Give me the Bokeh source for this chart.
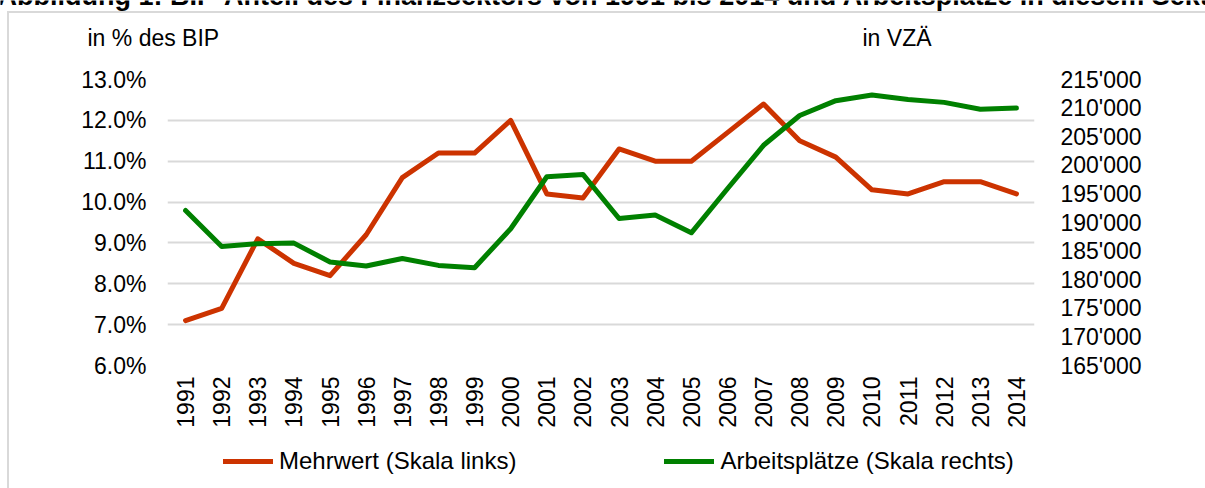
import numpy as np
from bokeh.plotting import figure
from bokeh.layouts import column
from bokeh.models import (Range1d, LinearAxis, FixedTicker, PrintfTickFormatter,
                          CustomJSTickFormatter, Legend, LegendItem, Label)
from bokeh.embed import file_html
from bokeh.resources import INLINE

# ---------------- data ----------------
years = [1991, 1992, 1993, 1994, 1995, 1996, 1997, 1998, 1999, 2000, 2001, 2002,
         2003, 2004, 2005, 2006, 2007, 2008, 2009, 2010, 2011, 2012, 2013, 2014]
mehrwert = [7.1, 7.4, 9.1, 8.5, 8.2, 9.2, 10.6, 11.2, 11.2, 12.0, 10.2, 10.1,
            11.3, 11.0, 11.0, 11.7, 12.4, 11.5, 11.1, 10.3, 10.2, 10.5, 10.5, 10.2]
arbeitsplaetze = [192100, 185800, 186300, 186400, 183100, 182400, 183700, 182500,
                  182100, 188900, 198000, 198400, 190700, 191300, 188200, 195900,
                  203500, 208700, 211300, 212300, 211500, 211000, 209800, 210000]
left_ticks = [6, 7, 8, 9, 10, 11, 12, 13]
right_ticks = [165000, 170000, 175000, 180000, 185000, 190000, 195000, 200000,
               205000, 210000, 215000]
series_labels = ["Mehrwert (Skala links)", "Arbeitsplätze (Skala rechts)"]
left_title = "in % des BIP"
right_title = "in VZÄ"
chart_title = ("Abbildung 1: BIP-Anteil des Finanzsektors von 1991 bis 2014 "
               "und Arbeitsplätze in diesem Sektor")

FONT = "Liberation Sans"
RED = "#CC3300"
GREEN = "#008000"
GRID = "#d9d9d9"

W = 1205
HEAD_H = 55          # header strip (page y 0..55)
MAIN_H = 385         # chart (page y 55..440)
LEG_H = 48           # legend strip (page y 440..488)
F_LEFT, F_RIGHT, F_TOP, F_BOTTOM = 167, 1034, 79, 365   # plot frame, page pixels

LEFT_LINE = f"linear-gradient({GRID},{GRID}) 7px 0px / 2px 100% no-repeat"


def bare(fig):
    fig.outline_line_color = None
    fig.background_fill_alpha = 0
    fig.border_fill_alpha = 0
    fig.min_border_left = fig.min_border_right = 0
    fig.min_border_top = fig.min_border_bottom = 0
    fig.xgrid.visible = False
    fig.ygrid.visible = False
    fig.frame_align = False


# ---------------- header strip ----------------
head = figure(width=W, height=HEAD_H, output_backend="svg", toolbar_location=None,
              x_range=Range1d(0, W), y_range=Range1d(HEAD_H, 0),
              x_axis_type=None, y_axis_type=None, title=None)
bare(head)
head.styles = {"background": (f"linear-gradient({GRID},{GRID}) 7px 12px / 2px 100% no-repeat, "
                              f"linear-gradient({GRID},{GRID}) 7px 11px / 100% 2px no-repeat, white")}
for txt, x_px, y_px, size, style in [(chart_title, -3, -5, "27px", "bold"),
                                     (left_title, 87, 37, "23px", "normal"),
                                     (right_title, 862, 37, "23px", "normal")]:
    head.add_layout(Label(x=x_px, y=y_px, text=txt, text_font=FONT, text_font_size=size,
                          text_font_style=style, text_baseline="alphabetic",
                          text_color="black"))

# ---------------- main chart ----------------
p = figure(width=W, height=MAIN_H, output_backend="svg", toolbar_location=None,
           x_range=Range1d(1990.5, 2014.5), y_range=Range1d(6, 13),
           min_border_left=F_LEFT, min_border_right=W - F_RIGHT,
           min_border_top=F_TOP - HEAD_H, min_border_bottom=HEAD_H + MAIN_H - F_BOTTOM,
           title=None)
p.frame_align = False
p.outline_line_color = None
p.background_fill_alpha = 0
p.border_fill_alpha = 0
p.styles = {"background": f"{LEFT_LINE}, white"}

p.xgrid.visible = False
p.ygrid.ticker = FixedTicker(ticks=left_ticks)
p.ygrid.grid_line_color = GRID
p.ygrid.grid_line_width = 2

xa = p.xaxis[0]
xa.ticker = FixedTicker(ticks=years)
xa.major_label_orientation = np.pi / 2
xa.major_label_standoff = 5

ya = p.yaxis[0]
ya.ticker = FixedTicker(ticks=left_ticks)
ya.formatter = PrintfTickFormatter(format="%.1f%%")
ya.major_label_standoff = 15

p.extra_y_ranges = {"r": Range1d(165000, 215000)}
ra = LinearAxis(y_range_name="r", ticker=FixedTicker(ticks=right_ticks),
                formatter=CustomJSTickFormatter(code="""
    return Math.round(tick).toString().replace(/\\B(?=(\\d{3})+(?!\\d))/g, "'");
"""))
ra.major_label_standoff = 20
p.add_layout(ra, "right")

for ax in (xa, ya, ra):
    ax.axis_line_color = None
    ax.major_tick_line_color = None
    ax.minor_tick_line_color = None
    ax.major_label_text_font = FONT
    ax.major_label_text_font_size = "23px"
    ax.major_label_text_color = "black"

p.line(years, mehrwert, line_color=RED, line_width=5, line_join="round", line_cap="round")
p.line(years, arbeitsplaetze, y_range_name="r", line_color=GREEN, line_width=5,
       line_join="round", line_cap="round")

# ---------------- legend strip ----------------
leg = figure(width=W, height=LEG_H, output_backend="svg", toolbar_location=None,
             x_range=Range1d(0, 1), y_range=Range1d(0, 1),
             x_axis_type=None, y_axis_type=None, title=None)
bare(leg)
leg.styles = {"background": f"{LEFT_LINE}, white"}
# key renderers sit outside the strip's visible range; only their legend keys show
k1 = leg.line(x=[5, 6], y=[5, 6], line_color=RED, line_width=5, line_cap="round")
k2 = leg.line(x=[5, 6], y=[5, 6], line_color=GREEN, line_width=5, line_cap="round")
legend = Legend(items=[LegendItem(label=series_labels[0], renderers=[k1]),
                       LegendItem(label=series_labels[1], renderers=[k2])],
                orientation="horizontal", location=(223, 13),
                glyph_width=50, glyph_height=26, label_height=26, label_standoff=6,
                spacing=148, padding=0, margin=0, background_fill_alpha=0,
                border_line_color=None, label_text_font=FONT,
                label_text_font_size="24px", label_text_color="black")
leg.add_layout(legend)

layout = column(head, p, leg, spacing=0)
open("out.html", "w").write(file_html(layout, INLINE))
